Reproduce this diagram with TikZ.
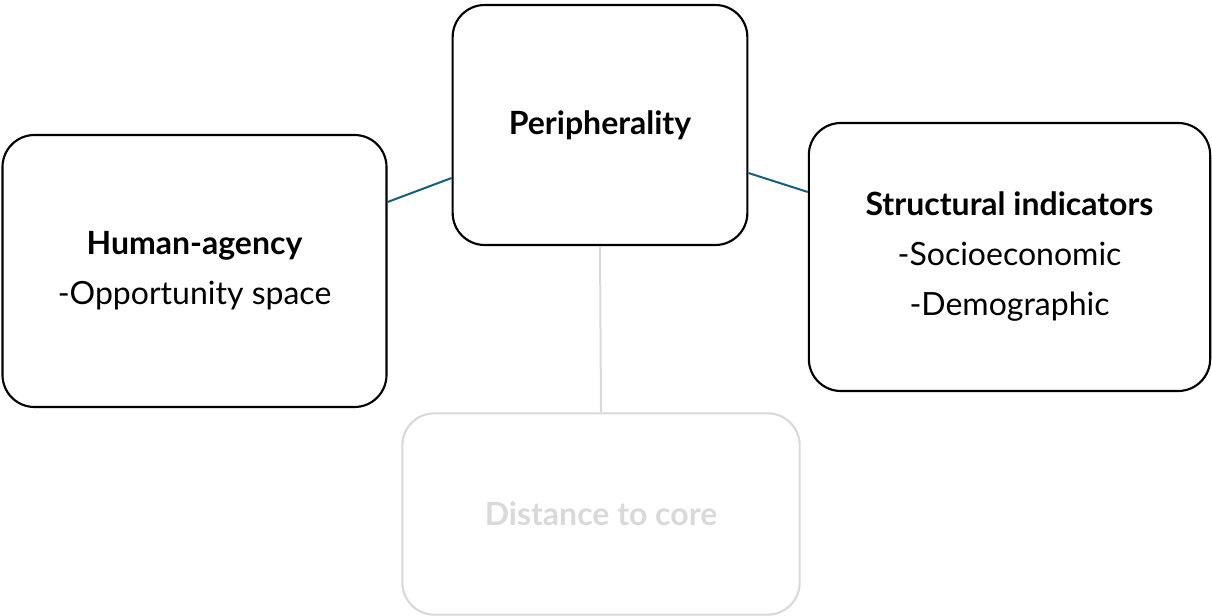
\documentclass[tikz,border=0pt]{standalone}
\usepackage{fontspec}
\setmainfont{Lato}
\definecolor{linkblue}{HTML}{156082}
\definecolor{fadegray}{HTML}{D9D9D9}
\begin{document}
\begin{tikzpicture}[x=0.75pt, y=-0.75pt,
    box/.style={draw, line width=1.6pt, rounded corners=24pt, align=center,
      font=\fontsize{24}{37.5}\selectfont, inner sep=0pt},
    faded/.style={box, draw=fadegray, text=fadegray},
    link/.style={linkblue, line width=1.5pt}]
    \useasboundingbox (0,0) rectangle (1212,616);
    \node (per) [box, minimum width=221pt, minimum height=180pt] at (600,125) {\textbf{Peripherality}};
    \node (ha) [box, minimum width=288pt, minimum height=204pt] at (194.5,271) {\textbf{Human-agency}\\-Opportunity space};
    \node (si) [box, minimum width=301pt, minimum height=201pt] at (1009.5,257) {\textbf{Structural indicators}\\-Socioeconomic\\-Demographic};
    \node (dc) [faded, minimum width=298pt, minimum height=151pt] at (601,514) {\textbf{Distance to core}};
    \draw[link] ([yshift=51.75pt]ha.east) -- ([yshift=-39.75pt]per.west);
    \draw[link] ([yshift=-36pt]per.east) -- ([yshift=48.75pt]si.west);
    \draw[fadegray, line width=1.5pt] (per.south) -- (dc.north);
  \end{tikzpicture}
\end{document}
